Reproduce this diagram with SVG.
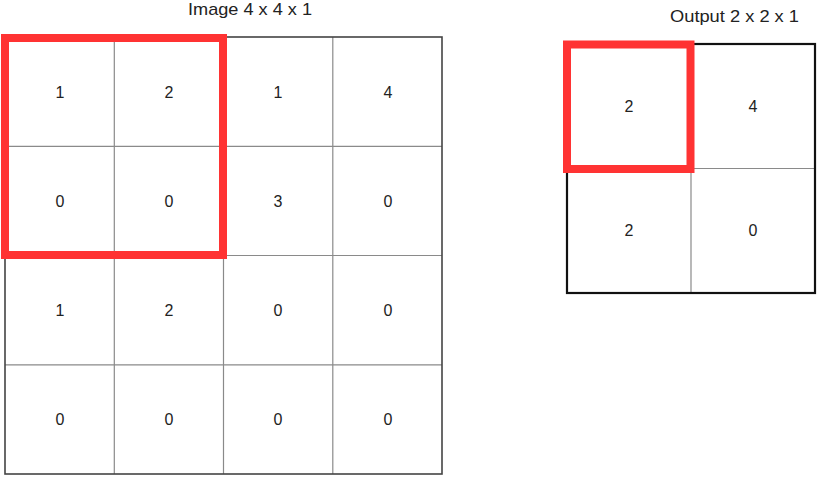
<svg xmlns="http://www.w3.org/2000/svg" width="818" height="477" viewBox="0 0 818 477">
<style>
.t{font-family:"Liberation Sans",Arial,sans-serif;fill:#222;}
.title{font-size:17px;}
.num{font-size:16px;text-anchor:middle;}
.inner{stroke:#8a8a8a;stroke-width:1.2;fill:none;}
.outerL{stroke:#444;stroke-width:1.6;fill:none;}
.outerR{stroke:#111;stroke-width:2.2;fill:none;}
.sel{stroke:#ff3333;stroke-width:8;fill:none;}
</style>
<rect width="818" height="477" fill="#fff"/>
<g id="image-grid">
<text class="t title" x="188" y="15" textLength="124" lengthAdjust="spacingAndGlyphs">Image 4 x 4 x 1</text>
<path class="inner" d="M114.3 37V474M223.5 37V474M332.8 37V474M5 146.3H442M5 255.5H442M5 364.8H442"/>
<rect class="outerL" x="5" y="37" width="437" height="437"/>
<g class="t num">
<text x="60" y="97.5">1</text><text x="169" y="97.5">2</text><text x="278" y="97.5">1</text><text x="388" y="97.5">4</text>
<text x="60" y="206.5">0</text><text x="169" y="206.5">0</text><text x="278" y="206.5">3</text><text x="388" y="206.5">0</text>
<text x="60" y="315.5">1</text><text x="169" y="315.5">2</text><text x="278" y="315.5">0</text><text x="388" y="315.5">0</text>
<text x="60" y="424.5">0</text><text x="169" y="424.5">0</text><text x="278" y="424.5">0</text><text x="388" y="424.5">0</text>
</g>
<rect class="sel" x="5" y="38" width="218" height="217"/>
</g>
<g id="output-grid">
<text class="t title" x="670" y="22" textLength="129" lengthAdjust="spacingAndGlyphs">Output 2 x 2 x 1</text>
<path class="inner" d="M691 44V293M567 168.5H815"/>
<rect class="outerR" x="567" y="44" width="248" height="249"/>
<g class="t num">
<text x="629" y="112">2</text><text x="753" y="112">4</text>
<text x="629" y="236">2</text><text x="753" y="236">0</text>
</g>
<rect class="sel" x="567" y="44.5" width="123.5" height="124.5"/>
</g>
<g id="connectors"/>
</svg>
